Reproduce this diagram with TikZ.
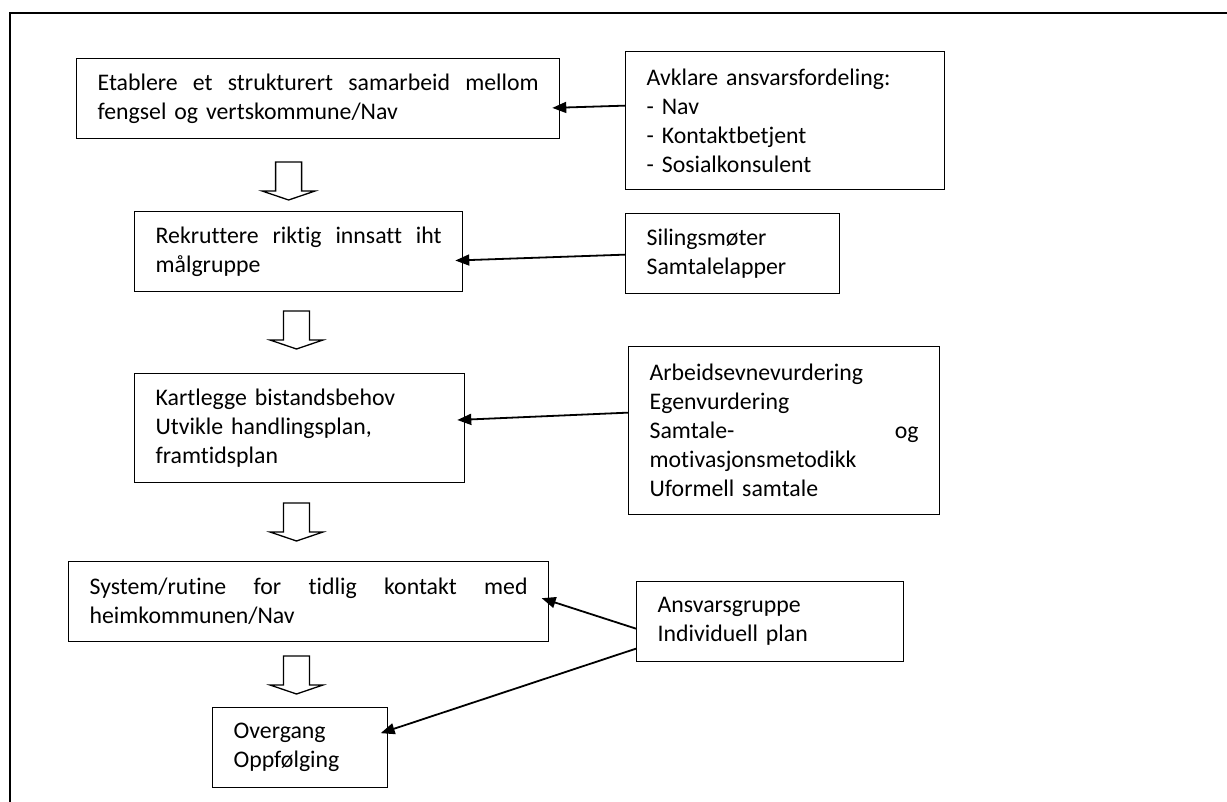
\documentclass[tikz,border=0pt]{standalone}
\usepackage{fontspec}
\setmainfont{Carlito}[Ligatures=NoCommon]
\usetikzlibrary{arrows.meta}

\def\shaftHalf{13}
\def\headHalf{26.5}

\tikzset{
  stepbox/.style={
    draw, line width=1.3pt, anchor=north west, align=left,
    inner xsep=21pt, inner ysep=0pt,
    font=\fontsize{23.8}{29}\selectfont
  },
  feed/.style={
    line width=1.8pt, -{Triangle[length=14pt,width=11pt]},
    shorten >=-8pt
  },
  hollow/.style={draw, line width=1.3pt, line join=miter}
}

\begin{document}
\begin{tikzpicture}[x=1pt, y=-1pt]
      \useasboundingbox (0,0) rectangle (1227,802);

      \draw[line width=2pt]
        (10,802) -- (10,13) -- (1227,13)
      ;

      \node[stepbox, text width=441pt, minimum height=80pt]
        (etablere) at (76,58)
        {Etablere\hfill et\hfill strukturert\hfill samarbeid\hfill mellom\\
         fengsel og vertskommune/Nav};
      \node[stepbox, text width=286pt, minimum height=80pt]
        (rekruttere) at (134,211)
        {Rekruttere\hfill riktig\hfill innsatt\hfill iht\\
         målgruppe};
      \node[stepbox, text width=288pt, minimum height=109pt]
        (kartlegge) at (134,373)
        {Kartlegge bistandsbehov\\
         Utvikle handlingsplan,\\
         framtidsplan};
      \node[stepbox, text width=438pt, minimum height=80pt]
        (rutine) at (68,561)
        {System/rutine\hfill for\hfill tidlig\hfill kontakt\hfill med\\
         heimkommunen/Nav};
      \node[stepbox, text width=133pt, minimum height=80pt]
        (overgang) at (212,707)
        {Overgang\\
         Oppfølging};

      \node[stepbox, text width=277pt, minimum height=138pt]
        (avklare) at (625,51)
        {Avklare ansvarsfordeling:\\
         - Nav\\
         - Kontaktbetjent\\
         - Sosialkonsulent};
      \node[stepbox, text width=172pt, minimum height=80pt]
        (siling) at (625,213)
        {Silingsmøter\\
         Samtalelapper};
      \node[stepbox, text width=269pt, minimum height=168pt]
        (metodikk) at (628,346)
        {Arbeidsevnevurdering\\
         Egenvurdering\\
         Samtale-\hfill og\\
         motivasjonsmetodikk\\
         Uformell samtale};
      \node[stepbox, text width=225pt, minimum height=80pt]
        (ansvar) at (636,581)
        {Ansvarsgruppe\\
         Individuell plan};

      \foreach \ax/\ay in {288.6/162, 296.5/311, 296.5/503, 296.5/656}
        \draw[hollow]
          (\ax-\shaftHalf,\ay) -- (\ax+\shaftHalf,\ay)
          -- (\ax+\shaftHalf,\ay+29) -- (\ax+\headHalf,\ay+29)
          -- (\ax,\ay+38) -- (\ax-\headHalf,\ay+29)
          -- (\ax-\shaftHalf,\ay+29) -- cycle
        ;

      \draw[feed]
        ([yshift=15pt]avklare.west) -- ([yshift=-9pt]etablere.east)
      ;
      \draw[feed]
        ([yshift=-1pt]siling.west) -- ([yshift=-8.6pt]rekruttere.east)
      ;
      \draw[feed]
        ([yshift=18pt]metodikk.west) -- ([yshift=8.5pt]kartlegge.east)
      ;
      \draw[feed]
        ([yshift=-7pt]ansvar.west) -- ([yshift=1pt]rutine.east)
      ;
      \draw[feed]
        ([yshift=-27pt]ansvar.west) -- ([yshift=17pt]overgang.east)
      ;
\end{tikzpicture}
\end{document}
